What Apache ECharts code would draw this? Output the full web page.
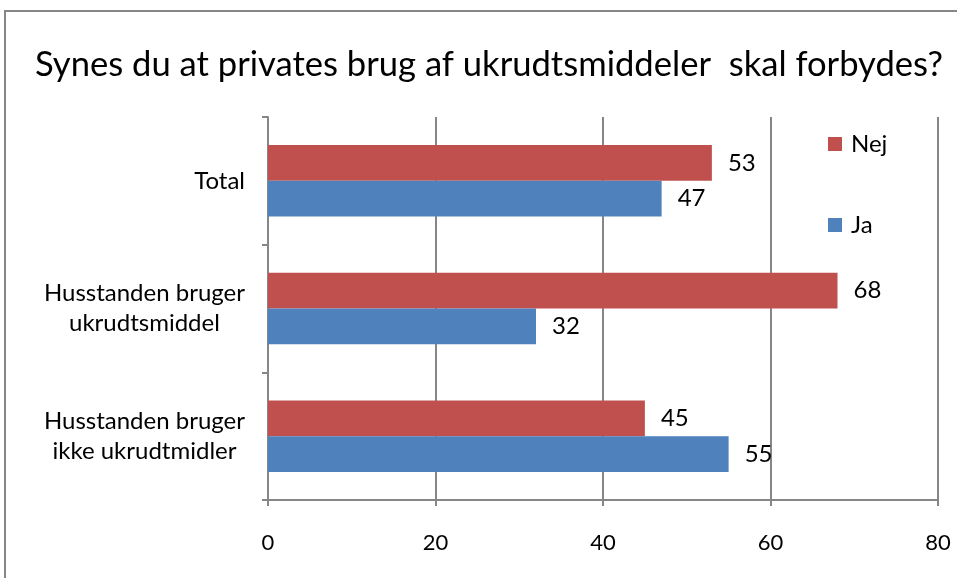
<!DOCTYPE html>
<html>
<head>
<meta charset="utf-8">
<script src="https://cdn.jsdelivr.net/npm/echarts@6/dist/echarts.min.js"></script>
<style>
    html, body { margin: 0; padding: 0; background: #fff; }
    #main { width: 957px; height: 578px; }
</style>
</head>
<body>
<div id="main"></div>
<script>
// data
const categories = ['Total', 'Husstanden bruger\nukrudtsmiddel', 'Husstanden bruger\nikke ukrudtmidler']
const nejValues = [53, 68, 45]
const jaValues = [47, 32, 55]
const xTicks = [0, 20, 40, 60, 80]

const fontName = 'Lato, "Liberation Sans", sans-serif'
const gray = '#868686'

let myChart = echarts.init(document.getElementById('main'))

let option = {
    backgroundColor: '#fff',
    animation: false,
    textStyle: { fontFamily: fontName, color: '#000' },
    title: {
        text: 'Synes du at privates brug af ukrudtsmiddeler  skal forbydes?',
        left: 30,
        top: 42,
        textStyle: { fontFamily: fontName, fontSize: 34.6, fontWeight: 'normal', color: '#000' }
    },
    // chart border (only top and left visible)
    graphic: [{
        type: 'rect',
        shape: { x: 5, y: 11, width: 1000, height: 1000 },
        style: { fill: 'none', stroke: gray, lineWidth: 2 },
        silent: true
    }],
    legend: {
        orient: 'vertical',
        left: 823,
        top: 126,
        itemWidth: 14,
        itemHeight: 14,
        itemGap: 55,
        icon: 'rect',
        data: ['Nej', 'Ja'],
        textStyle: { fontFamily: fontName, fontSize: 24, lineHeight: 26, color: '#000', padding: [0, 0, 0, 4] }
    },
    grid: { left: 268, right: 19, top: 117, bottom: 78, containLabel: false },
    xAxis: {
        type: 'value',
        min: xTicks[0],
        max: xTicks[xTicks.length - 1],
        interval: 20,
        axisLine: { show: true, lineStyle: { color: gray, width: 2 } },
        axisTick: { show: true, length: 6, lineStyle: { color: gray, width: 2 } },
        axisLabel: { margin: 32, fontSize: 22, color: '#000', fontFamily: fontName },
        splitLine: { show: true, lineStyle: { color: gray, width: 2 } }
    },
    yAxis: {
        type: 'category',
        inverse: true,
        data: categories,
        axisLine: { show: true, lineStyle: { color: gray, width: 2 } },
        axisTick: { show: true, length: 6, lineStyle: { color: gray, width: 2 } },
        axisLabel: {
            margin: 23,
            align: 'right',
            formatter: function(value) {
                return value.split('\n').map(s => '{c|' + s + '}').join('\n')
            },
            rich: {
                c: { fontSize: 24, lineHeight: 30, color: '#000', align: 'center', fontFamily: fontName }
            }
        }
    },
    series: [{
        name: 'Nej',
        type: 'bar',
        data: nejValues,
        barGap: '0%',
        barCategoryGap: '44%',
        itemStyle: { color: '#C0504D' },
        label: { show: true, position: 'right', distance: 16, fontSize: 24, color: '#000', fontFamily: fontName }
    }, {
        name: 'Ja',
        type: 'bar',
        data: jaValues,
        barGap: '0%',
        barCategoryGap: '44%',
        itemStyle: { color: '#4F81BD' },
        label: { show: true, position: 'right', distance: 16, fontSize: 24, color: '#000', fontFamily: fontName }
    }]
}

option && myChart.setOption(option)
</script>
</body>
</html>
